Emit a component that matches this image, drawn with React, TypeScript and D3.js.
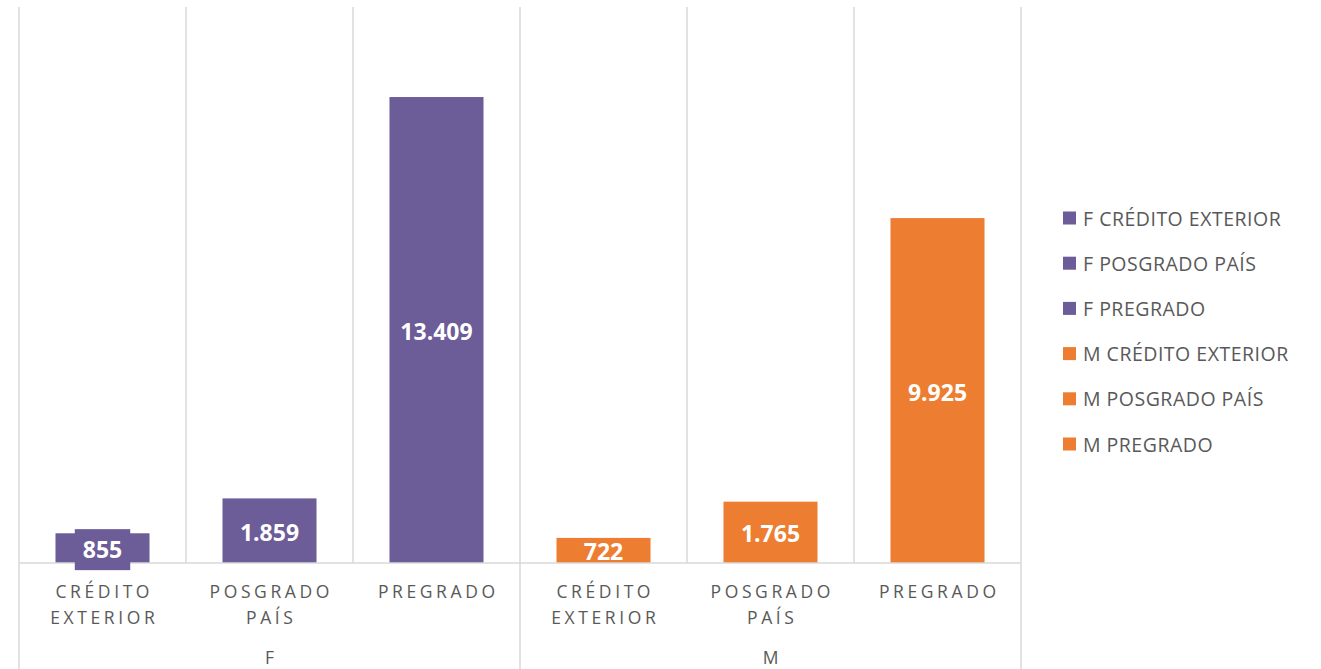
import React, { useEffect, useRef } from "react";
import * as d3 from "d3";

const groups = ["F", "M"];
const categories = ["CRÉDITO EXTERIOR", "POSGRADO PAÍS", "PREGRADO"];
const categoryLines = [["CRÉDITO", "EXTERIOR"], ["POSGRADO", "PAÍS"], ["PREGRADO"]];
const valuesF = [855, 1859, 13409];
const valuesM = [722, 1765, 9925];
const yDomain = [0, 16000];
const groupColors = ["#6c5c98", "#ed7d31"];

const W = 1321;
const H = 669;

export default function App() {
  const ref = useRef<SVGSVGElement>(null);

  useEffect(() => {
    const svg = d3.select(ref.current);
    svg.selectAll("*").remove();

    const margin = { top: 7, left: 19, right: 300, bottom: 106 };
    const plotRight = W - margin.right;
    const baseY = H - margin.bottom;

    const x0 = d3.scaleBand().domain(groups).range([margin.left, plotRight]);
    const x1 = d3.scaleBand()
      .domain(categories)
      .range([0, x0.bandwidth()])
      .paddingInner(0.437)
      .paddingOuter(0.2185);
    const y = d3.scaleLinear().domain(yDomain).range([baseY, margin.top]);

    const data = groups.flatMap((g, gi) =>
      categories.map((c, ci) => ({
        g, gi, c, ci,
        v: (gi === 0 ? valuesF : valuesM)[ci],
      }))
    );

    const grid = "#d9d9d9";
    const step = x1.step();

    // vertical grid lines between categories
    groups.forEach((g, gi) => {
      categories.forEach((c, ci) => {
        const xx = x0(g)! + ci * step;
        const outer = ci === 0;
        svg.append("line")
          .attr("x1", xx).attr("x2", xx)
          .attr("y1", margin.top).attr("y2", outer ? H : baseY)
          .attr("stroke", grid).attr("stroke-width", 1.5);
      });
    });
    svg.append("line")
      .attr("x1", plotRight).attr("x2", plotRight)
      .attr("y1", margin.top).attr("y2", H)
      .attr("stroke", grid).attr("stroke-width", 1.5);

    svg.append("defs").append("clipPath").attr("id", "plotclip")
      .append("rect")
      .attr("x", margin.left).attr("y", margin.top)
      .attr("width", plotRight - margin.left).attr("height", baseY - margin.top);

    // bars
    svg.append("g").selectAll("rect").data(data).join("rect")
      .attr("x", d => x0(d.g)! + x1(d.c)!)
      .attr("y", d => y(d.v))
      .attr("width", x1.bandwidth())
      .attr("height", d => baseY - y(d.v))
      .attr("fill", d => groupColors[d.gi]);

    // baseline
    svg.append("line")
      .attr("x1", margin.left).attr("x2", plotRight)
      .attr("y1", baseY).attr("y2", baseY)
      .attr("stroke", grid).attr("stroke-width", 1.5);

    // value labels
    const fmt = (v: number) => d3.format(",")(v).replace(/,/g, ".");
    const labels = svg.append("g");
    data.forEach(d => {
      const cx = x0(d.g)! + x1(d.c)! + x1.bandwidth() / 2;
      const cy = (y(d.v) + baseY) / 2 + 1;
      const boxed = d.gi === 0 && d.ci === 0;
      const grp = labels.append("g");
      if (!boxed) grp.attr("clip-path", "url(#plotclip)");
      const bg = grp.append("rect").attr("fill", groupColors[d.gi]);
      const t = grp.append("text")
        .attr("x", cx).attr("y", cy)
        .attr("text-anchor", "middle")
        .attr("dominant-baseline", "central")
        .attr("font-family", "'Open Sans', sans-serif")
        .attr("font-weight", 700)
        .attr("font-size", 23)
        .attr("fill", "#ffffff")
        .text(fmt(d.v));
      if (boxed) {
        const b = (t.node() as SVGTextElement).getBBox();
        bg.attr("x", cx - b.width / 2 - 8).attr("y", cy - 20)
          .attr("width", b.width + 16).attr("height", 41);
      } else {
        bg.remove();
      }
    });

    // category labels
    const ls = 3.6;
    data.forEach(d => {
      const cx = x0(d.g)! + x1(d.c)! + x1.bandwidth() / 2 + ls / 2;
      categoryLines[d.ci].forEach((line, li) => {
        svg.append("text")
          .attr("x", cx).attr("y", 591 + li * 26)
          .attr("text-anchor", "middle")
          .attr("dominant-baseline", "central")
          .attr("font-family", "'Open Sans', sans-serif")
          .attr("font-size", 17.5)
          .attr("letter-spacing", ls)
          .attr("fill", "#595959")
          .text(line);
      });
    });

    // group labels
    groups.forEach(g => {
      svg.append("text")
        .attr("x", x0(g)! + x0.bandwidth() / 2)
        .attr("y", 657)
        .attr("text-anchor", "middle")
        .attr("dominant-baseline", "central")
        .attr("font-family", "'Open Sans', sans-serif")
        .attr("font-size", 17.5)
        .attr("fill", "#595959")
        .text(g);
    });

    // legend
    const legend = svg.append("g");
    data.forEach((d, i) => {
      const ly = 218 + i * 45.2;
      legend.append("rect")
        .attr("x", 1063).attr("y", ly - 6.5)
        .attr("width", 13).attr("height", 13)
        .attr("fill", groupColors[d.gi]);
      legend.append("text")
        .attr("x", 1083).attr("y", ly)
        .attr("dominant-baseline", "central")
        .attr("font-family", "'Open Sans', sans-serif")
        .attr("font-size", 19.5)
        .attr("letter-spacing", 0.5)
        .attr("fill", "#595959")
        .text(`${d.g} ${d.c}`);
    });
  }, []);

  return (
    <svg
      ref={ref}
      width={W}
      height={H}
      style={{ position: "absolute", left: 0, top: 0, display: "block", background: "#fff" }}
    />
  );
}
